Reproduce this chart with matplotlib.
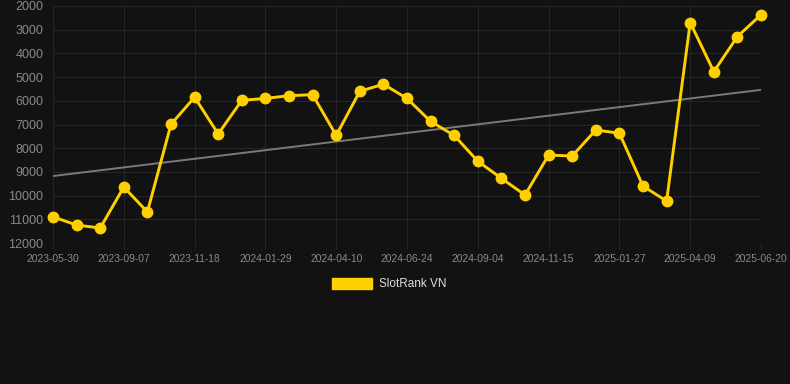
import numpy as np
import matplotlib
matplotlib.use("Agg")
from matplotlib import pyplot as plt
from matplotlib.patches import Patch

# ranking values (lower number = better rank, so y axis is inverted)
rank = [10900, 11240, 11370, 9640, 10690, 6990, 5850, 7400, 5980, 5900,
        5785, 5740, 7460, 5600, 5300, 5900, 6870, 7460, 8550, 9270,
        9975, 8290, 8330, 7230, 7370, 9600, 10230, 2700, 4770, 3290, 2370]
tick_labels = ['2023-05-30', '2023-09-07', '2023-11-18', '2024-01-29',
               '2024-04-10', '2024-06-24', '2024-09-04', '2024-11-15',
               '2025-01-27', '2025-04-09', '2025-06-20']
y_ticks = [2000, 3000, 4000, 5000, 6000, 7000, 8000, 9000, 10000, 11000, 12000]
series_name = 'SlotRank VN'

plt.rcParams['font.family'] = ['Liberation Sans', 'DejaVu Sans']

bg = '#121212'
yellow = '#FFD000'

fig = plt.figure(figsize=(7.9, 3.84), dpi=100, facecolor=bg)
ax = fig.add_axes([53/790, 1-243/384, (761-53)/790, (243-6)/384])
ax.set_facecolor(bg)

x = np.arange(len(rank))

# trend line (linear fit)
k, b = np.polyfit(x, rank, 1)
ax.plot([x[0], x[-1]], [k*x[0]+b, k*x[-1]+b], color='#7a7a7a', lw=1.4, zorder=2)

ax.plot(x, rank, color=yellow, lw=2.1, marker='o', markersize=7.5,
        clip_on=False, zorder=3)

ax.set_xlim(0, len(rank)-1)
ax.set_ylim(12000, 2000)
ax.set_yticks(y_ticks)
ax.set_yticklabels([str(v) for v in y_ticks])
ax.set_xticks(x[::3])
ax.set_xticklabels(tick_labels)

ax.grid(True, color='#252525', lw=0.8)
for s in ax.spines.values():
    s.set_visible(False)
ax.tick_params(axis='y', length=0, pad=7, labelsize=9, colors='#8a8a8a')
ax.tick_params(axis='x', length=4, width=0.8, color='#252525', pad=4,
               labelsize=7.4, labelcolor='#8a8a8a')

fig.legend(handles=[Patch(facecolor=yellow, edgecolor=yellow, label=series_name)],
           loc='center', bbox_to_anchor=(0.5 - 6/790, 1-284/384), frameon=False,
           handlelength=3.4, handleheight=1.1, handletextpad=0.6,
           fontsize=8.5, labelcolor='#dddddd')

fig.savefig('out.png', dpi=100, facecolor=bg)
